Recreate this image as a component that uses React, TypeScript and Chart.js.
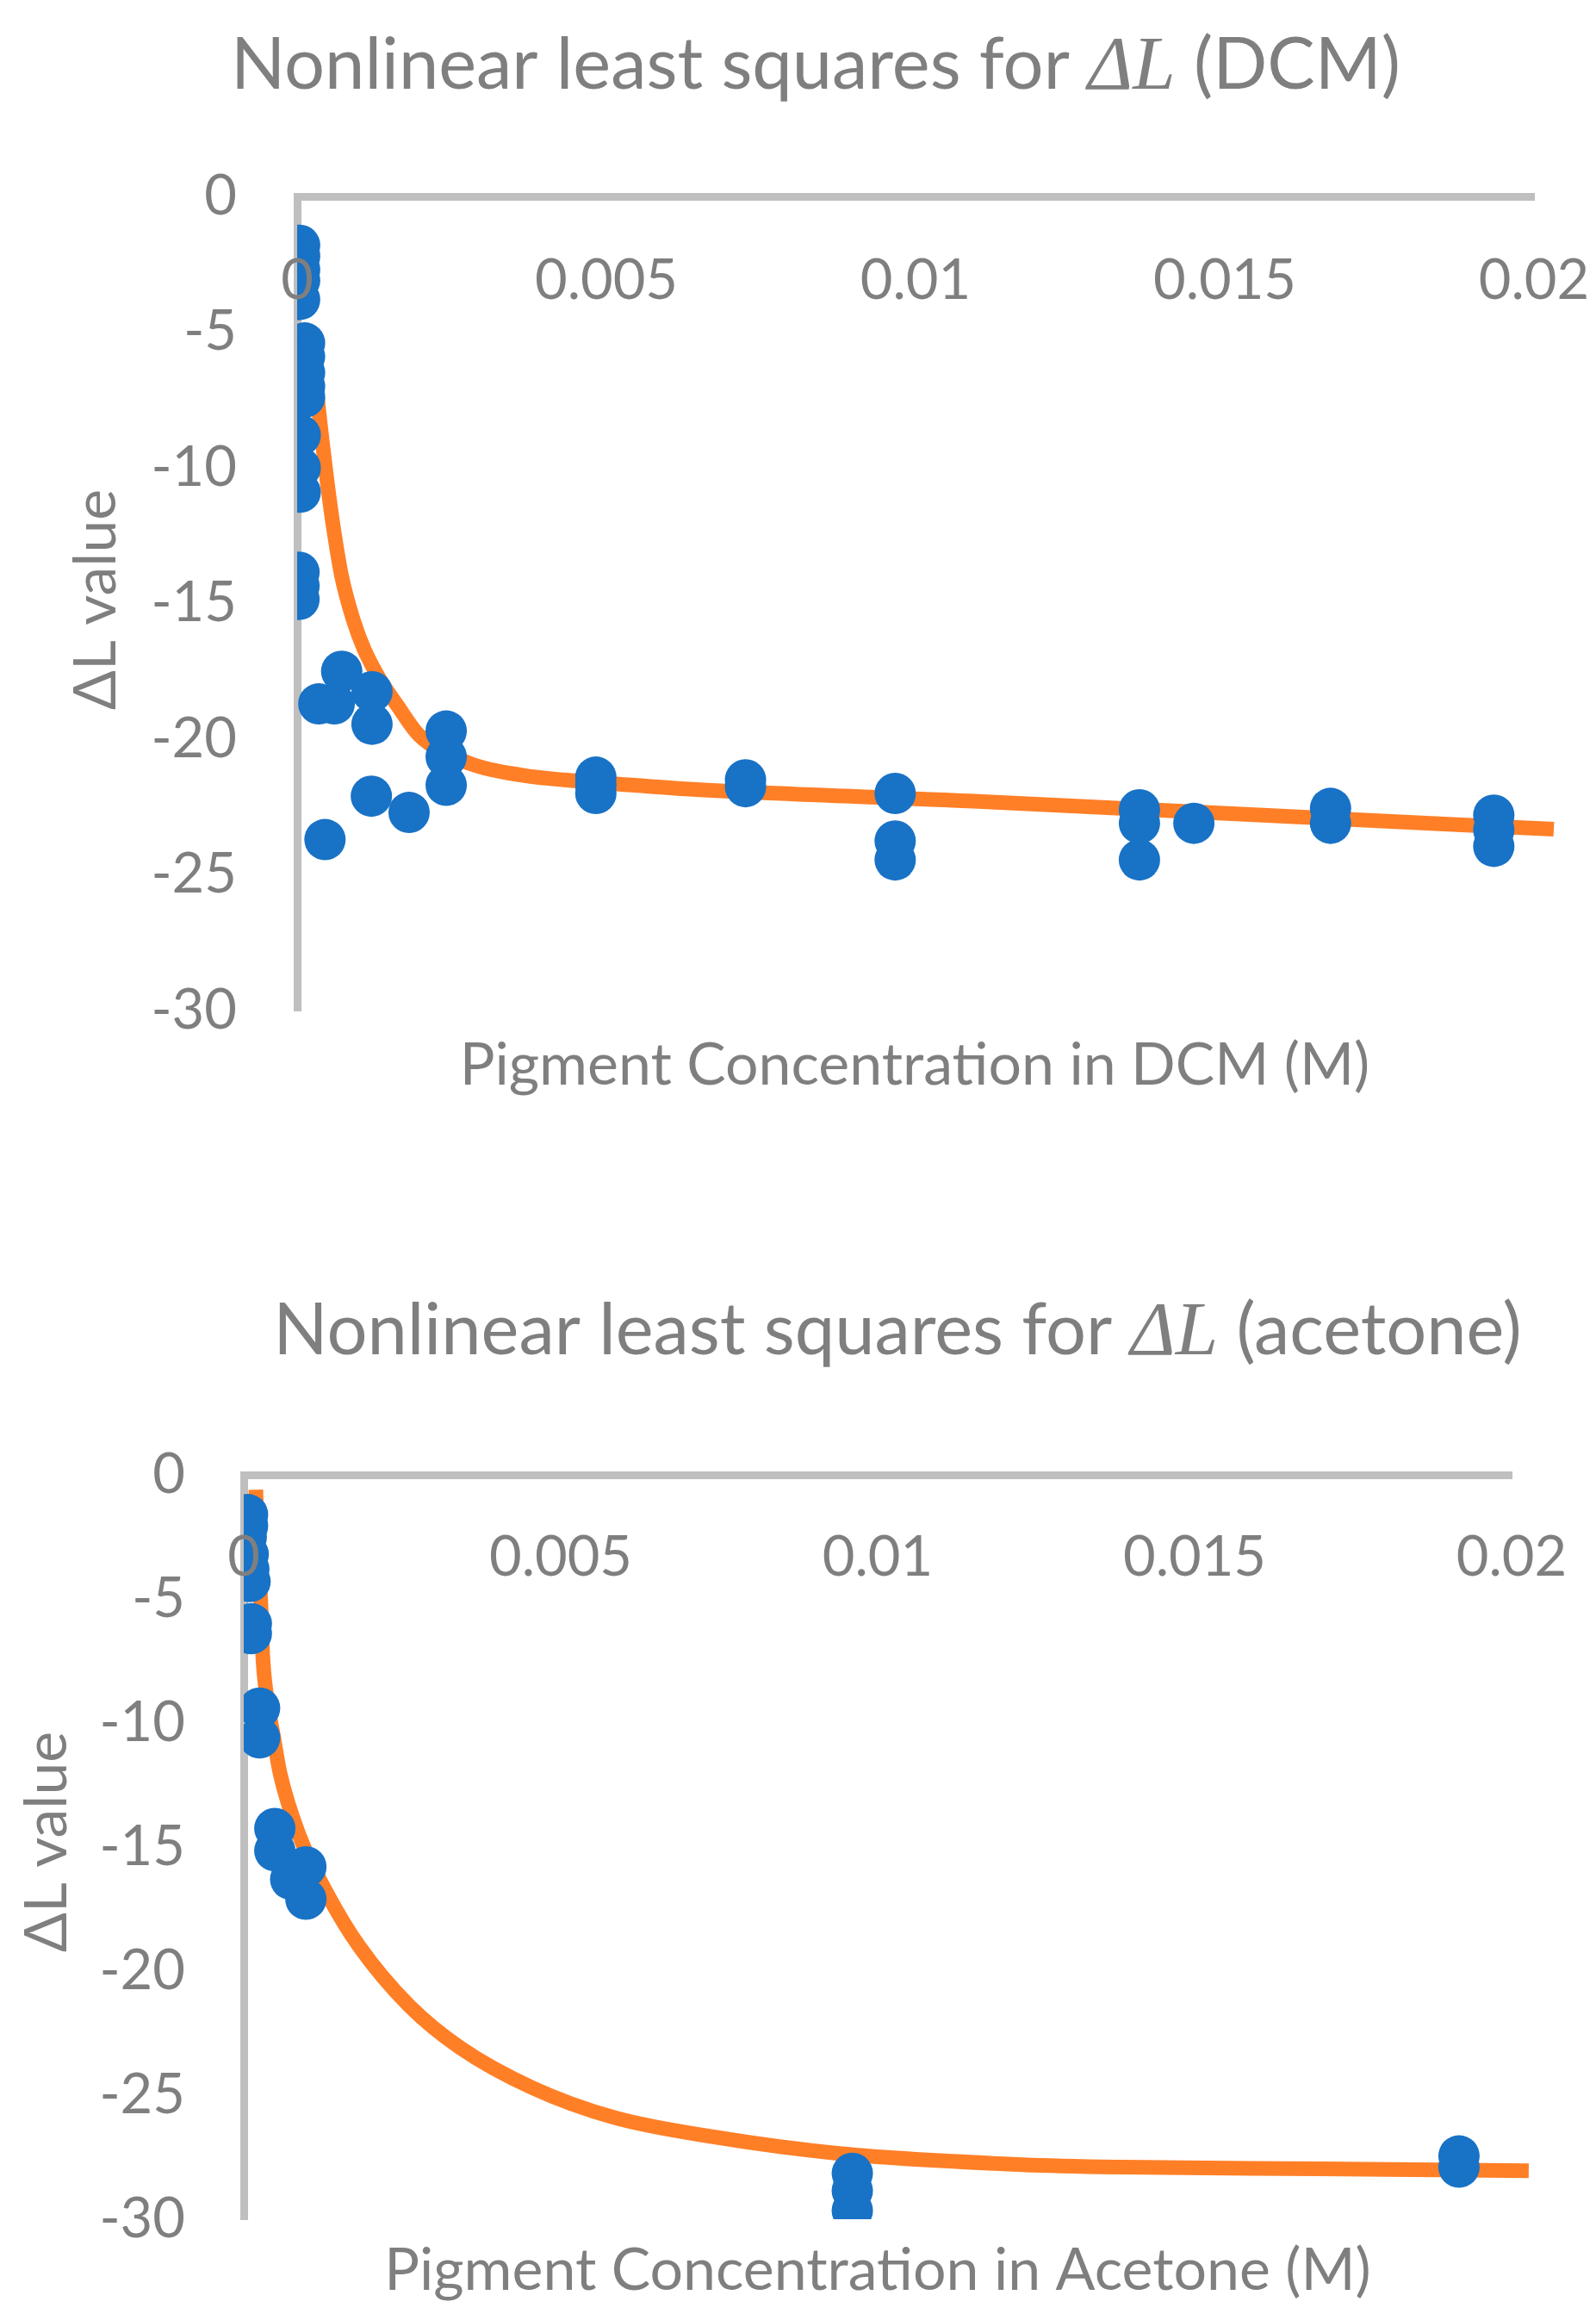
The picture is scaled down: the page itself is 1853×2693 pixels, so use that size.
import React, { useEffect, useRef } from "react";
import { Chart, registerables } from "chart.js";

Chart.register(...registerables);

// ---------- data ----------
const xTickLabels = ["0", "0.005", "0.01", "0.015", "0.02"];

// DCM measured points
const dcmX = [
  0.00004, 0.00004, 0.00004, 0.00004, 0.00004,
  0.00012, 0.00012, 0.00012, 0.00012, 0.00012,
  0.00005, 0.00005, 0.00005,
  0.00003, 0.00003, 0.00003,
  0.00035, 0.0006, 0.00072, 0.00121, 0.00121,
  0.00241, 0.00241, 0.00241,
  0.0012, 0.00181, 0.00045,
  0.00483, 0.00483, 0.00483,
  0.00725, 0.00725,
  0.00967, 0.00967, 0.00967,
  0.01362, 0.01362, 0.01362,
  0.0145,
  0.01671, 0.01671,
  0.01935, 0.01935, 0.01935,
];
const dcmY = [
  -1.8, -2.2, -2.7, -3.1, -3.8,
  -5.4, -5.9, -6.5, -7.0, -7.4,
  -8.8, -10.0, -10.9,
  -13.85, -14.35, -14.85,
  -18.7, -18.7, -17.5, -18.25, -19.45,
  -19.7, -20.65, -21.7,
  -22.1, -22.7, -23.7,
  -21.4, -21.7, -22.0,
  -21.5, -21.75,
  -22.0, -23.75, -24.45,
  -22.6, -23.1, -24.45,
  -23.1,
  -22.55, -23.1,
  -22.8, -23.35, -23.95,
];
// DCM fitted curve
const dcmFitX = [
  0.0003, 0.00035, 0.00041, 0.00049, 0.00058, 0.00072, 0.00091, 0.00108,
  0.00132, 0.00163, 0.00197, 0.00281, 0.00364, 0.00457, 0.00546, 0.0064,
  0.01101, 0.01569, 0.02032,
];
const dcmFitY = [
  -6.8, -7.9, -9.1, -10.6, -12.1, -14.0, -15.62, -16.67,
  -17.73, -18.79, -19.85, -20.91, -21.33, -21.55, -21.7, -21.85,
  -22.29, -22.81, -23.32,
];

// Acetone measured points
const acetoneX = [
  0.00006, 0.00006, 0.00004, 0.00007, 0.00008, 0.0001,
  0.00012, 0.00012,
  0.00025, 0.00025,
  0.00049, 0.00049, 0.00074, 0.00098, 0.00098,
  0.0096, 0.0096, 0.0096,
  0.01917, 0.01917,
];
const acetoneY = [
  -1.6, -2.05, -2.5, -3.2, -3.8, -4.3,
  -6.0, -6.4,
  -9.4, -10.6,
  -14.25, -15.15, -16.3, -15.8, -17.1,
  -28.15, -28.85, -29.65,
  -27.45, -27.9,
];
// Acetone fitted curve
const acetoneFitX = [
  0.00019, 0.00023, 0.00027, 0.0003, 0.00034, 0.00048, 0.00057, 0.00087,
  0.00132, 0.00182, 0.00261, 0.00342, 0.00455, 0.00584, 0.00745, 0.00939,
  0.01229, 0.01385, 0.01696, 0.02027,
];
const acetoneFitY = [
  -0.6, -3.3, -5.2, -7.3, -8.5, -10.7, -12.0, -14.5,
  -16.9, -19.0, -21.4, -23.1, -24.7, -25.9, -26.7, -27.35,
  -27.8, -27.9, -27.97, -28.05,
];

// ---------- styles ----------
const BLUE = "#1872C6";
const ORANGE = "#FF7F27";
const AXIS = "#BFBFBF";
const TEXT = "#7F7F7F";
const SANS = "Lato";
const MATH = "'Liberation Serif'";

type Spec = {
  height: number;
  pad: { left: number; right: number; top: number; bottom: number };
  yWidth: number;
  yTickPad: number;
  xTickPad: number;
  title: [string, string, string];
  titleCx: number;
  titleBase: number;
  xTitle: string;
  xTitleCx: number;
  xTitleCy: number;
  yTitle: string;
  yTitleCx: number;
  yTitleCy: number;
  xs: number[];
  ys: number[];
  fx: number[];
  fy: number[];
};

const topSpec: Spec = {
  height: 1346,
  pad: { left: 0, right: 72, top: 228, bottom: 173 },
  yWidth: 345,
  yTickPad: 70,
  xTickPad: 59,
  title: ["Nonlinear least squares for ", "ΔL", " (DCM)"],
  titleCx: 947,
  titleBase: 103,
  xTitle: "Pigment Concentration in DCM (M)",
  xTitleCx: 1062,
  xTitleCy: 1237,
  yTitle: "ΔL value",
  yTitleCx: 112,
  yTitleCy: 696,
  xs: dcmX,
  ys: dcmY,
  fx: dcmFitX,
  fy: dcmFitY,
};

const bottomSpec: Spec = {
  height: 1347,
  pad: { left: 0, right: 98, top: 366, bottom: 117 },
  yWidth: 283,
  yTickPad: 68,
  xTickPad: 57,
  title: ["Nonlinear least squares for ", "ΔL", " (acetone)"],
  titleCx: 1042,
  titleBase: 226,
  xTitle: "Pigment Concentration in Acetone (M)",
  xTitleCx: 1019,
  xTitleCy: 1290,
  yTitle: "ΔL value",
  yTitleCx: 55,
  yTitleCy: 792,
  xs: acetoneX,
  ys: acetoneY,
  fx: acetoneFitX,
  fy: acetoneFitY,
};

function textPlugin(spec: Spec) {
  return {
    id: "customText",
    afterDraw(chart: any) {
      const ctx = chart.ctx as CanvasRenderingContext2D;
      ctx.save();
      ctx.fillStyle = TEXT;
      // title with italic math part
      const fonts = [
        `83px ${SANS}`,
        `italic 89px ${MATH}`,
        `83px ${SANS}`,
      ];
      let total = 0;
      const widths: number[] = [];
      spec.title.forEach((t, i) => {
        ctx.font = fonts[i];
        const w = ctx.measureText(t).width;
        widths.push(w);
        total += w;
      });
      let x = spec.titleCx - total / 2;
      ctx.textAlign = "left";
      ctx.textBaseline = "alphabetic";
      spec.title.forEach((t, i) => {
        ctx.font = fonts[i];
        ctx.fillText(t, x, spec.titleBase);
        x += widths[i];
      });
      // x axis title
      ctx.font = `68px ${SANS}`;
      ctx.textAlign = "center";
      ctx.textBaseline = "middle";
      ctx.fillText(spec.xTitle, spec.xTitleCx, spec.xTitleCy);
      // y axis title
      ctx.translate(spec.yTitleCx, spec.yTitleCy);
      ctx.rotate(-Math.PI / 2);
      ctx.fillText(spec.yTitle, 0, 0);
      ctx.restore();
    },
  };
}

function FitChart({ spec }: { spec: Spec }) {
  const ref = useRef<HTMLCanvasElement>(null);
  useEffect(() => {
    if (!ref.current) return;
    const chart = new Chart(ref.current, {
      type: "scatter",
      data: {
        datasets: [
          {
            label: "measured",
            data: spec.xs.map((x, i) => ({ x, y: spec.ys[i] })),
            backgroundColor: BLUE,
            borderWidth: 0,
            pointRadius: 24,
            pointHoverRadius: 24,
          },
          {
            label: "fit",
            data: spec.fx.map((x, i) => ({ x, y: spec.fy[i] })),
            showLine: true,
            borderColor: ORANGE,
            backgroundColor: ORANGE,
            borderWidth: 17,
            pointRadius: 0,
            pointHoverRadius: 0,
            cubicInterpolationMode: "monotone",
            clip: false,
            fill: false,
          } as any,
        ],
      },
      options: {
        animation: false,
        responsive: false,
        maintainAspectRatio: false,
        devicePixelRatio: 1,
        events: [],
        layout: { padding: spec.pad },
        plugins: {
          legend: { display: false },
          tooltip: { enabled: false },
          title: { display: false },
        },
        scales: {
          x: {
            type: "linear",
            min: 0,
            max: 0.02,
            position: { y: 0 } as any,
            afterFit: (scale: any) => {
              scale.paddingLeft = 0;
              scale.paddingRight = 0;
            },
            grid: { display: false, drawTicks: false },
            border: { display: true, color: AXIS, width: 9 },
            ticks: {
              z: 1,
              stepSize: 0.005,
              padding: spec.xTickPad,
              autoSkip: false,
              maxRotation: 0,
              color: TEXT,
              font: { family: SANS, size: 65 },
              callback: (_v: any, i: number) => xTickLabels[i],
            },
          },
          y: {
            type: "linear",
            min: -30,
            max: 0,
            position: "left",
            afterFit: (scale: any) => {
              scale.width = spec.yWidth;
            },
            grid: { display: false, drawTicks: false },
            border: { display: true, color: AXIS, width: 9 },
            ticks: {
              stepSize: 5,
              padding: spec.yTickPad,
              color: TEXT,
              font: { family: SANS, size: 65 },
            },
          },
        },
      } as any,
      plugins: [textPlugin(spec)],
    });
    return () => chart.destroy();
  }, [spec]);
  return (
    <canvas
      ref={ref}
      width={1853}
      height={spec.height}
      style={{ display: "block", width: 1853, height: spec.height }}
    />
  );
}

export default function App() {
  return (
    <div
      style={{
        position: "absolute",
        left: 0,
        top: 0,
        width: 1853,
        height: 2693,
        background: "#ffffff",
      }}
    >
      <FitChart spec={topSpec} />
      <FitChart spec={bottomSpec} />
    </div>
  );
}
